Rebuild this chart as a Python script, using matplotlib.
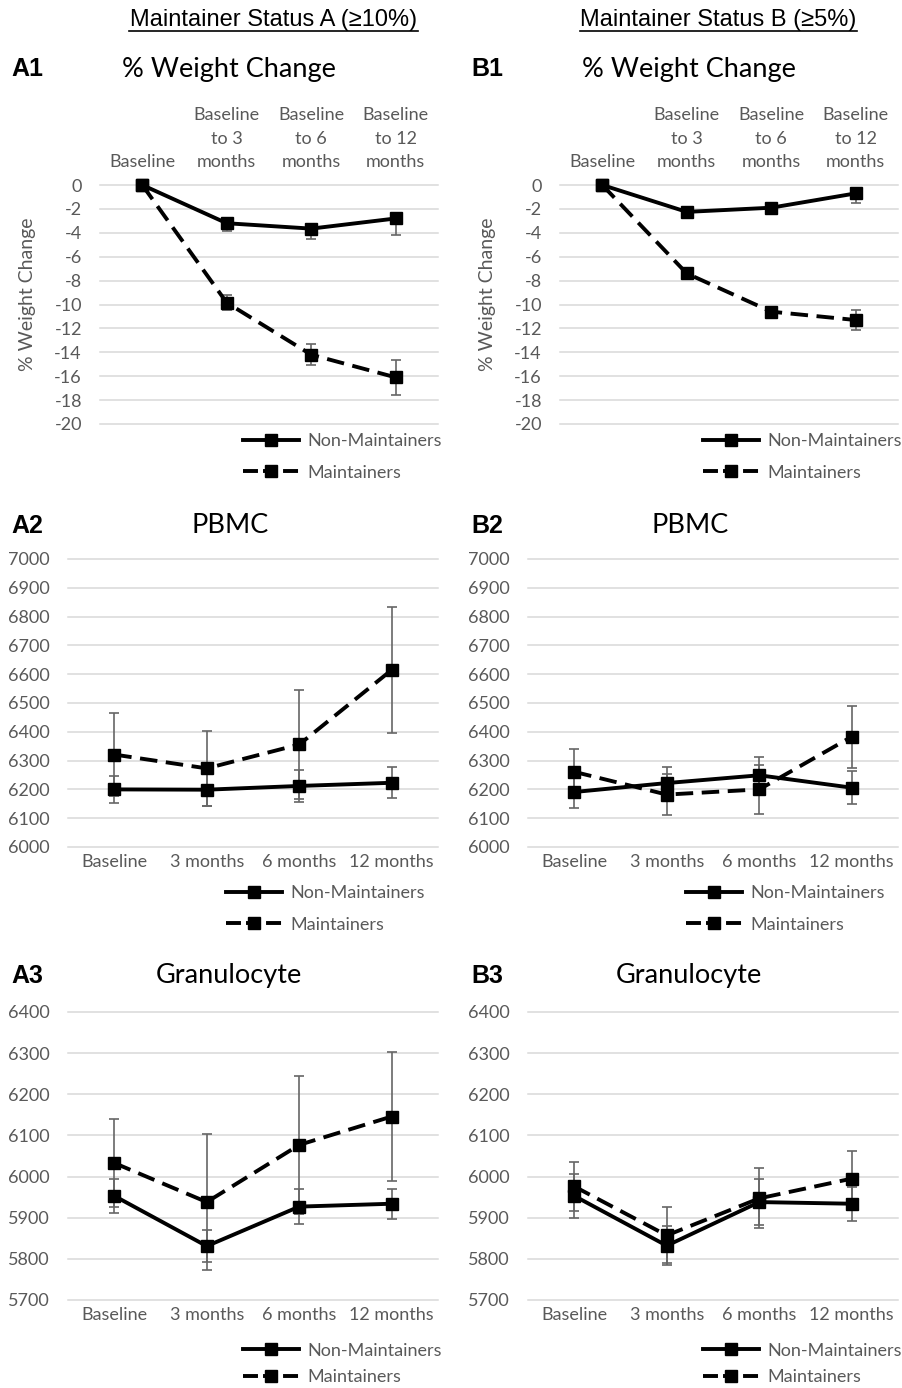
import numpy as np
import matplotlib
matplotlib.use('Agg')
import matplotlib.pyplot as plt
from matplotlib.lines import Line2D

plt.rcParams['font.family'] = ['Lato', 'DejaVu Sans']
plt.rcParams['axes.unicode_minus'] = False

W, H = 903, 1388

# ---- data ----
weight_labels = ['Baseline', 'Baseline\nto 3\nmonths', 'Baseline\nto 6\nmonths', 'Baseline\nto 12\nmonths']
time_labels = ['Baseline', '3 months', '6 months', '12 months']

# % weight change
a1_non = [0, -3.2, -3.65, -2.8]
a1_non_err = [0, 0.65, 0.85, 1.4]
a1_main = [0, -9.85, -14.2, -16.1]
a1_main_err = [0, 0.65, 0.9, 1.45]
b1_non = [0, -2.25, -1.9, -0.7]
b1_non_err = [0, 0.3, 0.3, 0.8]
b1_main = [0, -7.4, -10.6, -11.3]
b1_main_err = [0, 0.4, 0.4, 0.8]

# PBMC
a2_non = [6200, 6199, 6212, 6223]
a2_non_err = [47, 55, 56, 54]
a2_main = [6321, 6273, 6356, 6615]
a2_main_err = [145, 131, 189, 220]
b2_non = [6191, 6222, 6249, 6206]
b2_non_err = [55, 55, 65, 58]
b2_main = [6261, 6182, 6200, 6383]
b2_main_err = [78, 70, 85, 107]

# Granulocyte
a3_non = [5953, 5831, 5927, 5934]
a3_non_err = [42, 39, 42, 36]
a3_main = [6033, 5938, 6077, 6146]
a3_main_err = [107, 166, 168, 156]
b3_non = [5953, 5832, 5938, 5934]
b3_non_err = [53, 47, 55, 41]
b3_main = [5976, 5857, 5947, 5995]
b3_main_err = [60, 68, 73, 66]

wc_ticks = list(range(0, -21, -2))
pbmc_ticks = list(range(6000, 7001, 100))
gran_ticks = list(range(5700, 6401, 100))

GRAY = '#595959'
fig = plt.figure(figsize=(W / 100, H / 100), dpi=100)


def fx(x):
    return x / W


def fy(y):
    return 1 - y / H


def make_ax(x0, x1, y0, y1):
    return fig.add_axes([fx(x0), fy(y1), (x1 - x0) / W, (y1 - y0) / H])


def draw_panel(ax, non, non_err, main, main_err, ticks, xlabels, top=False, minus_only=False):
    x = np.arange(len(non))
    if minus_only:
        nerr = [non_err, [0] * len(non_err)]
    else:
        nerr = non_err
    ax.errorbar(x, non, yerr=nerr, fmt='none', ecolor='#666666', elinewidth=1.2,
                capsize=3.5, capthick=1.2, zorder=2, clip_on=False)
    ax.errorbar(x, main, yerr=main_err, fmt='none', ecolor='#666666', elinewidth=1.2,
                capsize=3.5, capthick=1.2, zorder=2, clip_on=False)
    ax.plot(x, non, color='black', lw=2.8, marker='s', ms=8, zorder=3, clip_on=False)
    ax.plot(x, main, color='black', lw=2.8, marker='s', ms=8, ls=(0, (4.5, 2.2)),
            zorder=3, clip_on=False)
    ax.set_xlim(-0.5, len(non) - 0.5)
    ax.set_ylim(min(ticks), max(ticks))
    ax.set_yticks(ticks)
    ax.set_yticklabels([str(t) for t in ticks])
    ax.set_xticks(x)
    ax.set_xticklabels(xlabels, linespacing=1.55)
    for s in ax.spines.values():
        s.set_visible(False)
    ax.grid(axis='y', color='#d9d9d9', lw=1.1)
    for g in ax.get_ygridlines():
        g.set_clip_on(False)
    ax.set_axisbelow(True)
    ax.tick_params(length=0, labelsize=13, labelcolor=GRAY)
    ax.tick_params(axis='y', pad=13)
    if top:
        ax.xaxis.tick_top()
        ax.tick_params(axis='x', pad=11)
    else:
        ax.tick_params(axis='x', pad=5)


# legend handles: dashes tuned so the marker sits centred on the dashed sample
leg_handles = [
    Line2D([], [], color='black', lw=2.8, marker='s', ms=8, label='Non-Maintainers'),
    Line2D([], [], color='black', lw=2.8, marker='s', ms=8, ls=(0, (3.85, 1.3)),
           label='Maintainers'),
]


def add_legend(ax, x, y, spacing):
    ax.legend(handles=leg_handles, loc='center left', bbox_to_anchor=(fx(x), fy(y)),
              bbox_transform=fig.transFigure, frameon=False, fontsize=13,
              labelcolor=GRAY, handlelength=3.1, handletextpad=0.45,
              labelspacing=spacing, borderpad=0, borderaxespad=0)


# row 1: % weight change
ax_a1 = make_ax(100, 438, 185, 424)
draw_panel(ax_a1, a1_non, a1_non_err, a1_main, a1_main_err, wc_ticks, weight_labels,
           top=True, minus_only=True)
add_legend(ax_a1, 243, 457, 0.85)
ax_b1 = make_ax(560, 898, 185, 424)
draw_panel(ax_b1, b1_non, b1_non_err, b1_main, b1_main_err, wc_ticks, weight_labels,
           top=True, minus_only=True)
add_legend(ax_b1, 703, 457, 0.85)

fig.text(fx(28), fy(294), '% Weight Change', rotation=90, ha='center', va='center',
         fontsize=14, color=GRAY)
fig.text(fx(488), fy(294), '% Weight Change', rotation=90, ha='center', va='center',
         fontsize=14, color=GRAY)

# row 2: PBMC
ax_a2 = make_ax(68, 438, 559, 847)
draw_panel(ax_a2, a2_non, a2_non_err, a2_main, a2_main_err, pbmc_ticks, time_labels)
add_legend(ax_a2, 226, 909, 0.85)
ax_b2 = make_ax(528, 898, 559, 847)
draw_panel(ax_b2, b2_non, b2_non_err, b2_main, b2_main_err, pbmc_ticks, time_labels)
add_legend(ax_b2, 686, 909, 0.85)

# row 3: Granulocyte
ax_a3 = make_ax(68, 438, 1012, 1300)
draw_panel(ax_a3, a3_non, a3_non_err, a3_main, a3_main_err, gran_ticks, time_labels)
add_legend(ax_a3, 243, 1364, 0.6)
ax_b3 = make_ax(528, 898, 1012, 1300)
draw_panel(ax_b3, b3_non, b3_non_err, b3_main, b3_main_err, gran_ticks, time_labels)
add_legend(ax_b3, 703, 1364, 0.6)

# titles
titles = [('% Weight Change', 229, 689, 77), ('PBMC', 230, 690, 533), ('Granulocyte', 229, 689, 983)]
for text, xa, xb, yb in titles:
    fig.text(fx(xa), fy(yb), text, ha='center', va='baseline', fontsize=19.5, color='black')
    fig.text(fx(xb), fy(yb), text, ha='center', va='baseline', fontsize=19.5, color='black')

for lab, yb in [('1', 76), ('2', 533), ('3', 983)]:
    fig.text(fx(11), fy(yb), 'A' + lab, ha='left', va='baseline', fontsize=18,
             fontweight='bold', family='Liberation Sans')
    fig.text(fx(471), fy(yb), 'B' + lab, ha='left', va='baseline', fontsize=18,
             fontweight='bold', family='Liberation Sans')

# column headers, underlined
for text, x0, x1 in [('Maintainer Status A (\u226510%)', 129, 418),
                     ('Maintainer Status B (\u22655%)', 580, 857)]:
    fig.text(fx((x0 + x1) / 2), fy(26), text, ha='center', va='baseline', fontsize=17,
             family='Liberation Sans', color='black')
    fig.add_artist(Line2D([fx(x0), fx(x1)], [fy(30.5), fy(30.5)], color='black', lw=1.2))

fig.savefig('out.png', dpi=100)
